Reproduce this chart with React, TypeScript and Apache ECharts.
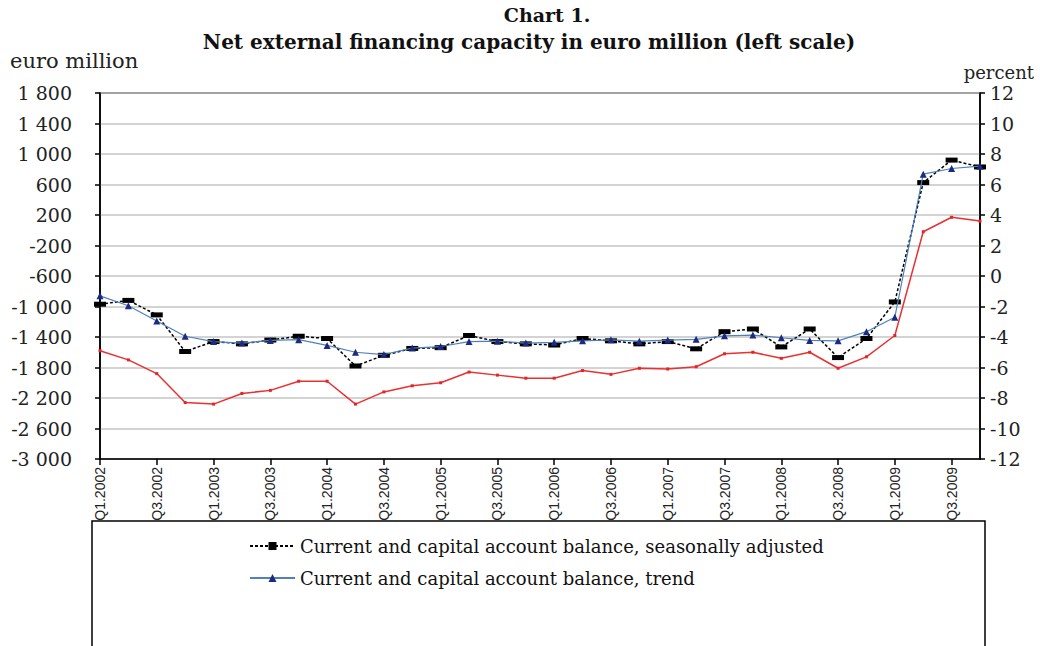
import React, { useEffect, useRef } from "react";
import * as echarts from "echarts";

const categories = [
  "Q1.2002", "Q2.2002", "Q3.2002", "Q4.2002",
  "Q1.2003", "Q2.2003", "Q3.2003", "Q4.2003",
  "Q1.2004", "Q2.2004", "Q3.2004", "Q4.2004",
  "Q1.2005", "Q2.2005", "Q3.2005", "Q4.2005",
  "Q1.2006", "Q2.2006", "Q3.2006", "Q4.2006",
  "Q1.2007", "Q2.2007", "Q3.2007", "Q4.2007",
  "Q1.2008", "Q2.2008", "Q3.2008", "Q4.2008",
  "Q1.2009", "Q2.2009", "Q3.2009", "Q4.2009",
];

const seasonallyAdjusted = [
  -970, -920, -1110, -1590, -1460, -1490, -1440, -1390,
  -1420, -1780, -1640, -1550, -1540, -1380, -1460, -1490,
  -1505, -1420, -1450, -1490, -1460, -1555, -1330, -1295,
  -1530, -1295, -1670, -1420, -940, 625, 920, 830,
];

const trend = [
  -860, -990, -1190, -1390, -1460, -1480, -1445, -1435,
  -1510, -1600, -1630, -1545, -1525, -1460, -1455, -1480,
  -1470, -1450, -1437, -1455, -1440, -1430, -1385, -1375,
  -1410, -1445, -1450, -1330, -1140, 735, 810, 840,
];

const percentOfGdp = [
  -4.9, -5.5, -6.4, -8.3, -8.4, -7.7, -7.5, -6.9,
  -6.9, -8.4, -7.6, -7.2, -7.0, -6.3, -6.5, -6.7,
  -6.7, -6.2, -6.45, -6.05, -6.1, -5.95, -5.1, -5.0,
  -5.4, -5.0, -6.05, -5.3, -3.9, 2.9, 3.85, 3.6,
];

const seriesNames = [
  "Current and capital account balance, seasonally adjusted",
  "Current and capital account balance, trend",
  "Net external financing capacity, percent of GDP (right scale)",
];

const SERIF = "'DejaVu Serif', 'Liberation Serif', serif";

const fmtThousands = (v: number) => {
  const a = Math.abs(v);
  const s = a >= 1000 ? Math.floor(a / 1000) + " " + String(a % 1000).padStart(3, "0") : String(a);
  return (v < 0 ? "-" : "") + s;
};

export default function App() {
  const ref = useRef<HTMLDivElement>(null);
  useEffect(() => {
    if (!ref.current) return;
    const chart = echarts.init(ref.current, undefined, { renderer: "svg" });
    chart.setOption({
      animation: false,
      backgroundColor: "#ffffff",
      grid: {
        left: 100,
        right: 60,
        top: 93,
        bottom: 187,
        containLabel: false,
        show: true,
        borderColor: "#000",
        borderWidth: 1.5,
      },
      graphic: [
        {
          type: "text",
          x: 547,
          y: 15,
          style: {
            text: "Chart 1.",
            font: `bold 19px ${SERIF}`,
            fill: "#111",
            align: "center",
            verticalAlign: "middle",
          },
        },
        {
          type: "text",
          x: 529,
          y: 42,
          style: {
            text: "Net external financing capacity in euro million (left scale)",
            font: `bold 20px ${SERIF}`,
            fill: "#111",
            align: "center",
            verticalAlign: "middle",
          },
        },
        {
          type: "text",
          x: 10,
          y: 61,
          style: {
            text: "euro million",
            font: `21px ${SERIF}`,
            fill: "#222",
            align: "left",
            verticalAlign: "middle",
          },
        },
        {
          type: "text",
          x: 1034,
          y: 72,
          style: {
            text: "percent",
            font: `18px ${SERIF}`,
            fill: "#222",
            align: "right",
            verticalAlign: "middle",
          },
        },
        {
          type: "rect",
          shape: { x: 92, y: 521, width: 893, height: 200 },
          style: { fill: "none", stroke: "#000", lineWidth: 1.5 },
          silent: true,
        },
      ],
      legend: {
        orient: "vertical",
        left: 244,
        top: 531,
        itemWidth: 45,
        itemHeight: 10,
        itemGap: 12,
        data: [seriesNames[0], seriesNames[1]],
        textStyle: {
          fontFamily: SERIF,
          fontSize: 18,
          color: "#111",
          lineHeight: 20,
        },
      },
      xAxis: {
        type: "category",
        data: categories,
        boundaryGap: false,
        axisLine: { onZero: false, lineStyle: { color: "#000", width: 1.5 } },
        axisTick: { interval: 1, length: 6, lineStyle: { color: "#000", width: 1.5 } },
        axisLabel: {
          interval: 1,
          rotate: 90,
          margin: 8,
          fontFamily: "'Liberation Sans', Arial, sans-serif",
          fontSize: 14,
          color: "#222",
        },
        splitLine: { show: false },
      },
      yAxis: [
        {
          type: "value",
          min: -3000,
          max: 1800,
          interval: 400,
          axisLine: { show: true, lineStyle: { color: "#000", width: 1.5 } },
          axisTick: { show: true, length: 5, lineStyle: { color: "#000", width: 1.5 } },
          axisLabel: {
            margin: 28,
            fontFamily: SERIF,
            fontSize: 19,
            color: "#222",
            formatter: fmtThousands,
          },
          splitLine: { show: true, lineStyle: { color: "#c4c4c4", width: 1.5 } },
        },
        {
          type: "value",
          min: -12,
          max: 12,
          interval: 2,
          position: "right",
          axisLine: { show: true, lineStyle: { color: "#000", width: 1.5 } },
          axisTick: { show: true, length: 5, lineStyle: { color: "#000", width: 1.5 } },
          axisLabel: {
            margin: 10,
            fontFamily: SERIF,
            fontSize: 19,
            color: "#222",
          },
          splitLine: { show: false },
        },
      ],
      series: [
        {
          name: seriesNames[0],
          type: "line",
          data: seasonallyAdjusted,
          yAxisIndex: 0,
          symbol: "rect",
          symbolSize: [12, 5],
          itemStyle: { color: "#000" },
          lineStyle: { color: "#000", width: 1.5, type: [3, 2] },
          z: 3,
        },
        {
          name: seriesNames[1],
          type: "line",
          data: trend,
          yAxisIndex: 0,
          symbol: "triangle",
          symbolSize: 7,
          itemStyle: { color: "#1c2a80" },
          lineStyle: { color: "#4f81bd", width: 1.2 },
          z: 4,
        },
        {
          name: seriesNames[2],
          type: "line",
          data: percentOfGdp,
          yAxisIndex: 1,
          symbol: "rect",
          symbolSize: 3,
          itemStyle: { color: "#e0262a" },
          lineStyle: { color: "#ea3030", width: 1.5 },
          z: 2,
        },
      ],
    });
    return () => chart.dispose();
  }, []);
  return (
    <div
      ref={ref}
      style={{ position: "absolute", left: 0, top: 0, width: 1040, height: 646 }}
    />
  );
}
